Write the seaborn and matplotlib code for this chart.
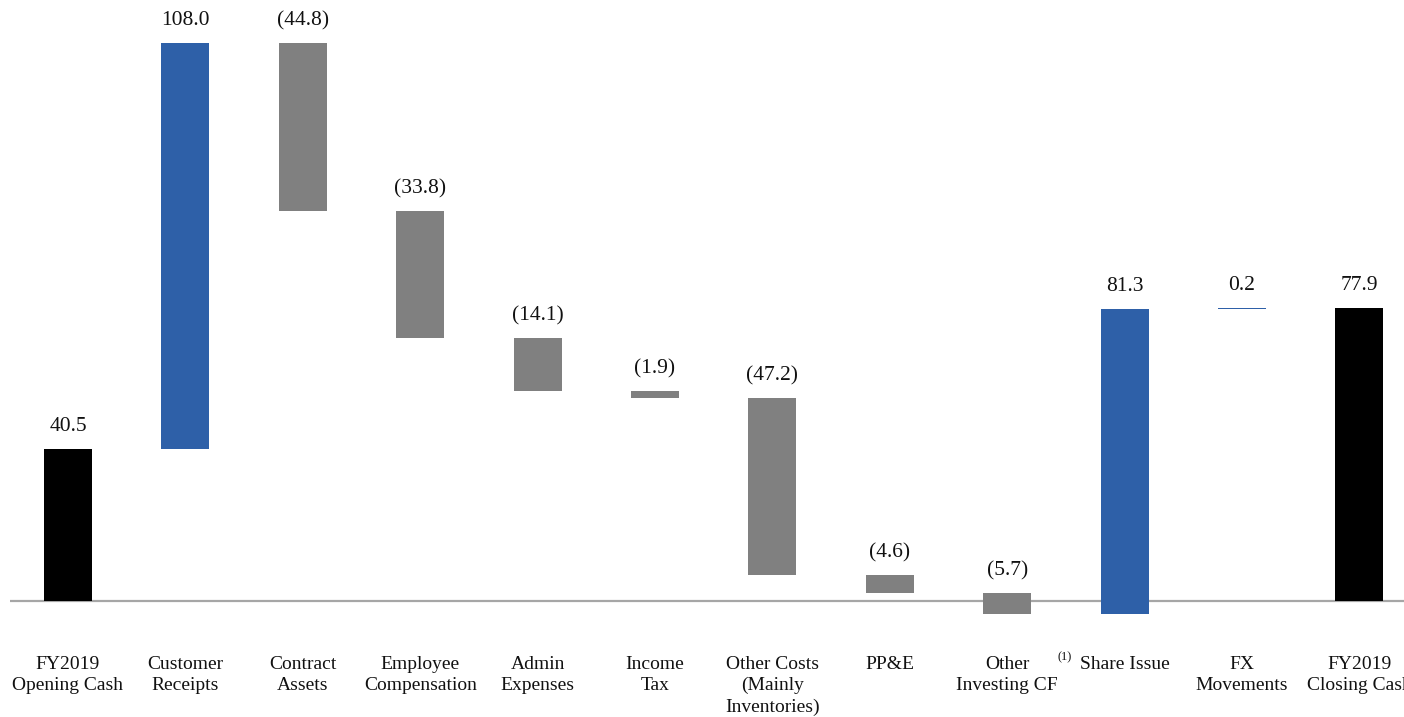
import matplotlib
matplotlib.use("Agg")
import matplotlib.pyplot as plt
import matplotlib.transforms as mtransforms
import seaborn as sns
import pandas as pd
import numpy as np

# ---- data ----
categories = ["FY2019\nOpening Cash", "Customer\nReceipts", "Contract\nAssets",
              "Employee\nCompensation", "Admin\nExpenses", "Income\nTax",
              "Other Costs\n(Mainly\nInventories)", "PP&E", "Other\nInvesting CF",
              "Share Issue", "FX\nMovements", "FY2019\nClosing Cash"]
changes = [40.5, 108.0, -44.8, -33.8, -14.1, -1.9, -47.2, -4.6, -5.7, 81.3, 0.2, 77.9]
kinds = ["total", "up", "down", "down", "down", "down", "down", "down", "down", "up", "up", "total"]
value_labels = ["40.5", "108.0", "(44.8)", "(33.8)", "(14.1)", "(1.9)", "(47.2)",
                "(4.6)", "(5.7)", "81.3", "0.2", "77.9"]
kind_colors = {"total": "#000000", "up": "#2E60A8", "down": "#808080"}

# ---- waterfall geometry from data ----
lows, highs = [], []
running = 0.0
for c, k in zip(changes, kinds):
    if k == "total":
        lo, hi = 0.0, c
        running = c
    else:
        start = running
        running = running + c
        lo, hi = min(start, running), max(start, running)
    lows.append(lo)
    highs.append(hi)

df = pd.DataFrame({"cat": categories, "low": lows, "high": highs,
                   "height": np.array(highs) - np.array(lows), "kind": kinds})

sns.set_theme(style="white")
plt.rcParams["font.family"] = ["Liberation Serif", "DejaVu Serif"]

W, H = 1404, 717
fig = plt.figure(figsize=(W / 100, H / 100), dpi=100)
ax = fig.add_axes([10 / W, 77 / H, (W - 10) / W, 640 / H])

palette = [kind_colors[k] for k in kinds]
sns.barplot(data=df, x="cat", y="height", hue="cat", palette=palette,
            legend=False, width=0.41, ax=ax, saturation=1, linewidth=0)

for patch, lo in zip(ax.patches, df["low"]):
    patch.set_y(lo)

ax.set_xlim(-0.494, 11.38)
ax.set_ylim(-10.5, 160)
ax.axhline(0, color="#A6A6A6", lw=1.6, zorder=0.5)

for i, (hi, lab) in enumerate(zip(df["high"], value_labels)):
    ax.annotate(lab, xy=(i, hi), xytext=(0, 16), textcoords="offset points",
                ha="center", va="center", fontsize=15.5, color="#111111")

ax.set_xticks(range(len(categories)))
ax.set_xticklabels(categories, fontsize=14, linespacing=1.3, color="#111111")
ax.tick_params(axis="x", length=0, pad=11.5)
ax.set_yticks([])
ax.set_xlabel("")
ax.set_ylabel("")
for s in ax.spines.values():
    s.set_visible(False)

# superscript footnote marker on "Other Investing CF"
trans = mtransforms.blended_transform_factory(ax.transData, fig.transFigure)
ax.text(8.485, 1 - 657 / H, "(1)", transform=trans, fontsize=9,
        ha="center", va="center", color="#111111")

fig.savefig("out.png", dpi=100)
